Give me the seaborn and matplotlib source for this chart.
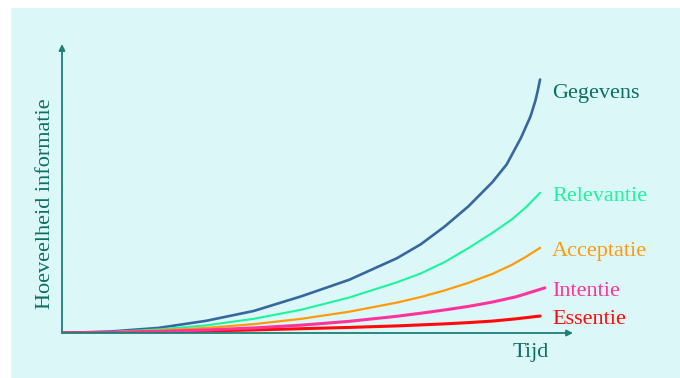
import matplotlib
matplotlib.use("Agg")
import matplotlib.pyplot as plt
from matplotlib.patches import Rectangle
import seaborn as sns
import pandas as pd

# data (time 0..10, information in arbitrary units)
t_geg = [0, 1, 2, 3, 4, 5, 6, 7, 7.5, 8, 8.5, 9, 9.3, 9.6, 9.8, 9.9, 9.95, 10]
gegevens = [0, 0.6, 2.0, 4.8, 8.7, 14.5, 21, 29.5, 35, 42, 50, 59.5, 66.5, 77, 85.5, 91.5, 95.5, 100]
t_rel = [0, 1, 2, 3, 4, 5, 6, 7, 7.5, 8, 8.5, 9, 9.4, 9.7, 10]
relevantie = [0, 0.4, 1.4, 3.0, 5.6, 9.2, 14, 20, 23.5, 28, 33.5, 39.5, 44.7, 49.5, 55.3]
t_acc = [0, 1, 2, 3, 4, 5, 6, 7, 7.5, 8, 8.5, 9, 9.4, 9.7, 10]
acceptatie = [0, 0.3, 1.0, 2.0, 3.5, 5.6, 8.4, 12, 14.2, 16.8, 19.8, 23.3, 26.8, 30, 33.6]
t_int = [0, 1, 2, 3, 4, 5, 6, 7, 7.5, 8, 8.5, 9, 9.5, 10.1]
intentie = [0, 0.2, 0.6, 1.2, 2.0, 3.1, 4.6, 6.6, 7.8, 9.1, 10.5, 12.2, 14.3, 17.8]
t_ess = [0, 1, 2, 3, 4, 5, 6, 7, 8, 8.5, 9, 9.5, 10]
essentie = [0, 0.1, 0.4, 0.8, 1.2, 1.7, 2.2, 2.8, 3.6, 4.1, 4.7, 5.6, 6.7]

series = ["Gegevens", "Relevantie", "Acceptatie", "Essentie", "Intentie"]
colors = {"Gegevens": "#36679e", "Relevantie": "#1cf59c", "Acceptatie": "#ff9a0a",
          "Intentie": "#ff3399", "Essentie": "#ff0a0a"}
text_colors = {"Gegevens": "#0d6e62", "Relevantie": "#1cf59c", "Acceptatie": "#ff9a0a",
               "Intentie": "#ff3399", "Essentie": "#ff0a0a"}
widths = {"Gegevens": 1.9, "Relevantie": 1.5, "Acceptatie": 1.6, "Intentie": 2.2, "Essentie": 2.2}

df = pd.concat([
    pd.DataFrame({"tijd": t_geg, "info": gegevens, "soort": "Gegevens"}),
    pd.DataFrame({"tijd": t_rel, "info": relevantie, "soort": "Relevantie"}),
    pd.DataFrame({"tijd": t_acc, "info": acceptatie, "soort": "Acceptatie"}),
    pd.DataFrame({"tijd": t_ess, "info": essentie, "soort": "Essentie"}),
    pd.DataFrame({"tijd": t_int, "info": intentie, "soort": "Intentie"}),
])

sns.set_style("white")
plt.rcParams['font.family'] = ['Liberation Serif', 'DejaVu Serif']

axis_col = "#1f7f75"
bg = "#dcf7f8"

fig = plt.figure(figsize=(6.8, 3.78), dpi=100)
fig.patch.set_facecolor("white")
fig.patches.append(Rectangle((11 / 680, 0), 1 - 11 / 680, 370 / 378,
                             transform=fig.transFigure, facecolor=bg,
                             edgecolor="none", zorder=-10))

ax = fig.add_axes([62 / 680, 45 / 378, 511 / 680, 289 / 378])
ax.set_facecolor("none")

for s in series:
    sub = df[df["soort"] == s]
    sns.lineplot(data=sub, x="tijd", y="info", ax=ax, color=colors[s],
                 linewidth=widths[s], sort=False, estimator=None)
    last = sub.iloc[-1]
    off = -5.5 if s == "Gegevens" else -1.5
    ax.text(10.25, last["info"] + off, s, color=text_colors[s], fontsize=16,
            va="center", ha="left")

ax.set_xlim(-0.02, 10.69)
ax.set_ylim(0, 114)
for sp in ax.spines.values():
    sp.set_visible(False)
ax.set_xticks([])
ax.set_yticks([])
ax.set_xlabel("")
ax.set_ylabel("")

arrow = dict(arrowstyle="-|>", color=axis_col, lw=1.3, mutation_scale=9,
             shrinkA=0, shrinkB=0)
ax.annotate("", xy=(0, 1), xytext=(0, 0), xycoords="axes fraction",
            textcoords="axes fraction", arrowprops=arrow)
ax.annotate("", xy=(1, 0), xytext=(0, 0), xycoords="axes fraction",
            textcoords="axes fraction", arrowprops=arrow)

ax.text(0.918, -0.066, "Tijd", transform=ax.transAxes, color="#0d6e62",
        fontsize=16, ha="center", va="center")
ax.text(-0.033, 0.446, "Hoeveelheid informatie", transform=ax.transAxes,
        color="#0d6e62", fontsize=16, ha="center", va="center", rotation=90)

fig.savefig("out.png", dpi=100)
